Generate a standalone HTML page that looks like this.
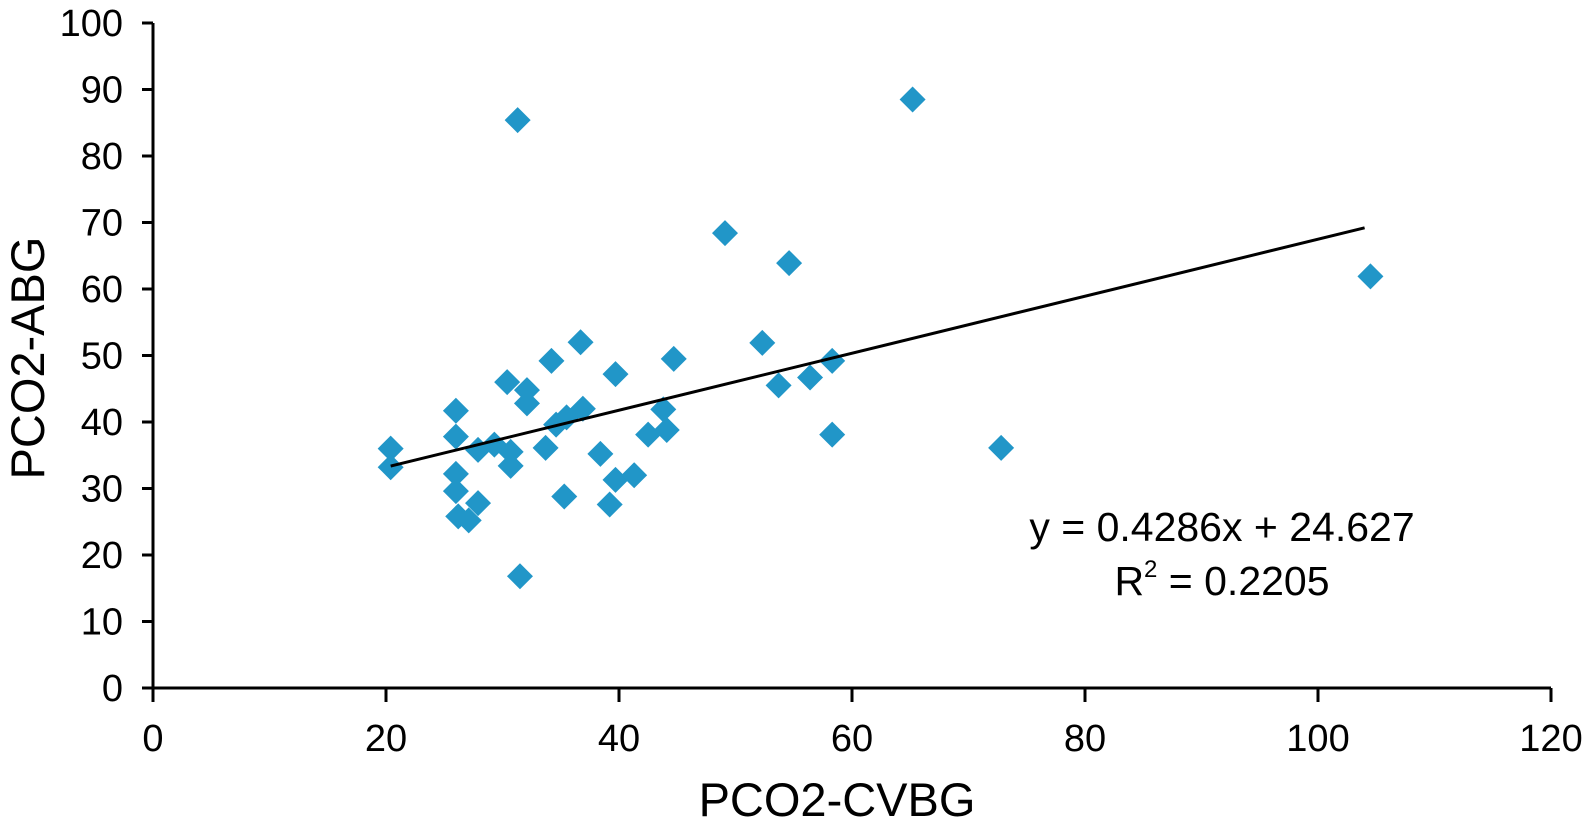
<!DOCTYPE html>
<html><head><meta charset="utf-8"><style>
html,body{margin:0;padding:0;background:#fff;overflow:hidden;width:1585px;height:833px;}
svg{display:block;font-family:"Liberation Sans",Arial,sans-serif;}
</style></head><body>
<svg id="chart" width="1585" height="833" viewBox="0 0 1585 833">
<text x="1222" y="541" text-anchor="middle" font-size="41">y = 0.4286x + 24.627</text>
<text x="1222" y="595" text-anchor="middle" font-size="41">R<tspan font-size="24" dy="-18">2</tspan><tspan dy="18"> = 0.2205</tspan></text>
<text x="837" y="816" text-anchor="middle" font-size="47">PCO2-CVBG</text>
<text transform="translate(44,358) rotate(-90)" text-anchor="middle" font-size="47">PCO2-ABG</text>
</svg>
<script>
const xTicks=[0,20,40,60,80,100,120];
const yTicks=[0,10,20,30,40,50,60,70,80,90,100];
const xVals=[20.4,20.4,26.0,26.0,26.0,26.0,26.2,27.1,27.9,27.9,29.3,30.4,30.7,30.7,31.3,31.5,32.1,32.1,33.7,34.2,34.6,35.3,35.5,36.7,36.9,38.4,39.2,39.7,39.7,41.3,42.5,43.8,44.1,44.7,49.1,52.3,53.7,54.6,56.4,58.3,58.3,65.2,72.8,104.5];
const yVals=[36.0,33.2,41.7,37.8,32.2,29.6,25.8,25.2,27.8,35.8,36.6,46.0,35.5,33.4,85.4,16.8,44.8,42.8,36.1,49.2,39.6,28.8,40.7,52.0,42.0,35.2,27.6,47.2,31.3,32.0,38.1,41.9,38.8,49.5,68.4,51.9,45.5,63.9,46.7,49.2,38.1,88.5,36.1,61.9];
const slope=0.4286, intercept=24.627;
const fitRange=[20.4,104.0];
const X0=153,X1=1551,Y0=688,Y1=23;
const sx=v=>X0+v/120*(X1-X0);
const sy=v=>Y0-v/100*(Y0-Y1);
const svg=document.getElementById('chart');
const NS='http://www.w3.org/2000/svg';
function mk(t,a,txt){const e=document.createElementNS(NS,t);for(const k in a)e.setAttribute(k,a[k]);if(txt!==undefined)e.textContent=txt;svg.appendChild(e);return e;}
let e=mk('line',{x1:X0,y1:Y1,x2:X0,y2:Y0+14,stroke:'#000','stroke-width':3});


e=mk('line',{x1:X0-11,y1:Y0,x2:X1,y2:Y0,stroke:'#000','stroke-width':3});


yTicks.forEach(v=>{
 let t=mk('line',{x1:X0-11,y1:sy(v),x2:X0,y2:sy(v),stroke:'#000','stroke-width':3});
 
 
 let l=mk('text',{x:123,y:sy(v)+13,'text-anchor':'end','font-size':38},String(v));
 
 
});
xTicks.forEach(v=>{
 let t=mk('line',{x1:sx(v),y1:Y0,x2:sx(v),y2:Y0+14,stroke:'#000','stroke-width':3});
 
 
 let l=mk('text',{x:sx(v),y:751,'text-anchor':'middle','font-size':38},String(v));
 
 
});
xVals.forEach((xv,i)=>{
 const cx=sx(xv),cy=sy(yVals[i]),r=13;
 let p=mk('polygon',{points:`${cx},${cy-r} ${cx+r},${cy} ${cx},${cy+r} ${cx-r},${cy}`,fill:'#2196c8'});
 
 
});
e=mk('line',{x1:sx(fitRange[0]),y1:sy(slope*fitRange[0]+intercept),x2:sx(fitRange[1]),y2:sy(slope*fitRange[1]+intercept),stroke:'#000','stroke-width':3});


</script>
</body></html>
